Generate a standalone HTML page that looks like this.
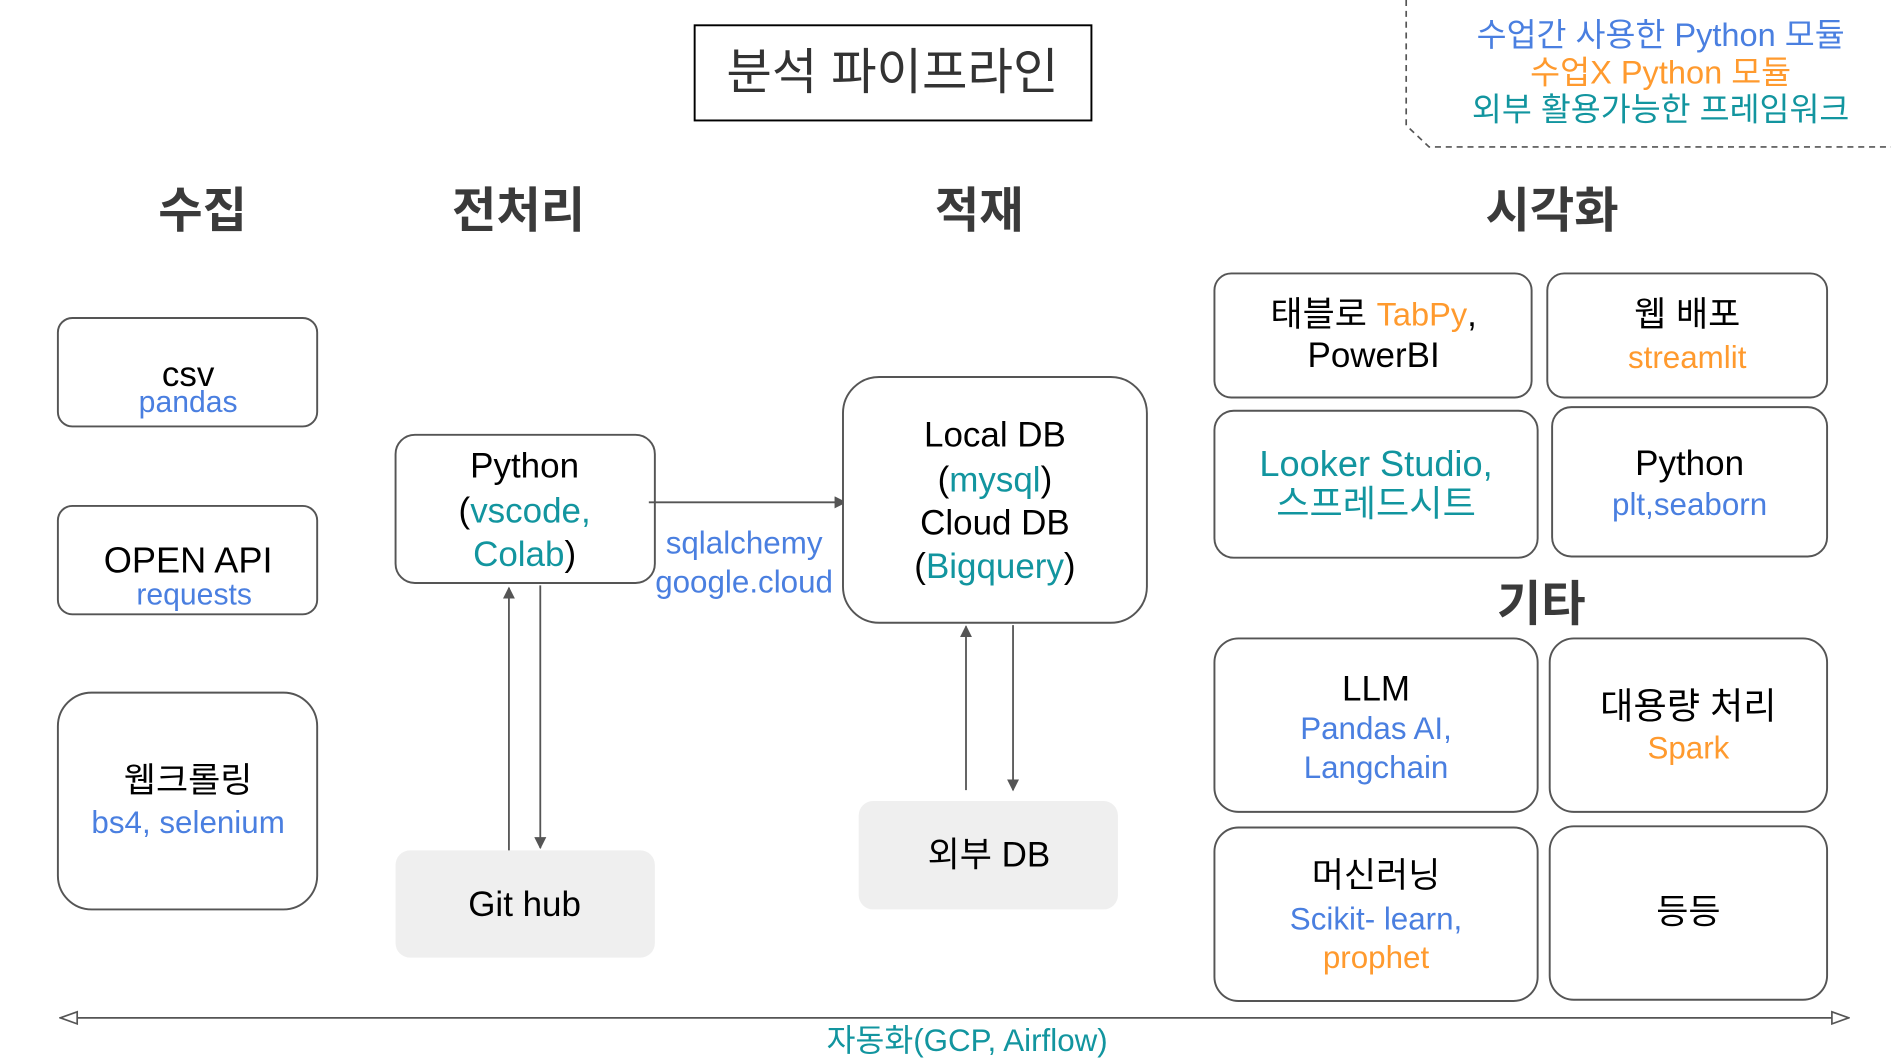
<!DOCTYPE html>
<html><head><meta charset="utf-8"><style>
html,body{margin:0;padding:0;background:#fff;}
svg{display:block}
text{font-family:"Liberation Sans","Noto Sans CJK KR",sans-serif;text-anchor:middle;dominant-baseline:central}
.k{fill:#000;font-size:29px}
.b{fill:#4a7fe0;font-size:25px}
.o{fill:#ff9a2e;font-size:25px}
.t{fill:#12959f;font-size:29px}
.h{fill:#3a3a3a;font-size:40px;font-weight:bold}
.bx{fill:#fff;stroke:#555;stroke-width:1.6}
.g{fill:#efefef}
.ln{stroke:#555;stroke-width:1.5;fill:none}
</style></head><body>
<svg width="1891" height="1060" viewBox="0 0 1568 880" preserveAspectRatio="none" xmlns="http://www.w3.org/2000/svg">
<defs>
<marker id="a" markerWidth="10" markerHeight="10" refX="9" refY="5" orient="auto" markerUnits="userSpaceOnUse"><path d="M0,0 L10,5 L0,10 z" fill="#555"/></marker>
<marker id="oa" markerWidth="16" markerHeight="12" refX="15" refY="6" orient="auto-start-reverse" markerUnits="userSpaceOnUse"><path d="M1,1 L15,6 L1,11 z" fill="#fff" stroke="#555" stroke-width="1.4"/></marker>
</defs>
<rect x="576" y="21" width="329" height="79" fill="#fff" stroke="#000" stroke-width="1.6"/>
<text x="740" y="60" style="font-size:41px;fill:#333">분석 파이프라인</text>
<path d="M1166,0 L1166,104 L1185,122 L1568,122" fill="none" stroke="#555" stroke-width="1.4" stroke-dasharray="5,4"/>
<text x="1377" y="29" class="b" style="font-size:27px">수업간 사용한 Python 모듈</text>
<text x="1377" y="60" class="o" style="font-size:27px">수업X Python 모듈</text>
<text x="1377" y="91" class="t" style="font-size:27px">외부 활용가능한 프레임워크</text>
<text x="168" y="175" class="h">수집</text>
<text x="430" y="175" class="h">전처리</text>
<text x="812" y="175" class="h">적재</text>
<text x="1287" y="175" class="h">시각화</text>
<text x="1278" y="502" class="h">기타</text>
<rect class="bx" x="48" y="264" width="215" height="90" rx="12"/>
<text x="156" y="311" class="k">csv</text><text x="156" y="334" class="b">pandas</text>
<rect class="bx" x="48" y="420" width="215" height="90" rx="12"/>
<text x="156" y="465" class="k" style="font-size:30px">OPEN API</text><text x="161" y="494" class="b">requests</text>
<rect class="bx" x="48" y="575" width="215" height="180" rx="28"/>
<text x="156" y="648" class="k">웹크롤링</text><text x="156" y="683" class="b" style="font-size:26px">bs4, selenium</text>
<rect class="bx" x="328" y="361" width="215" height="123" rx="16"/>
<text x="435" y="387" class="k">Python</text>
<text x="435" y="424" class="k">(<tspan class="t">vscode,</tspan></text>
<text x="435" y="460" class="k"><tspan class="t">Colab</tspan>)</text>
<rect class="g" x="328" y="706" width="215" height="89" rx="12"/>
<text x="435" y="751" class="k">Git hub</text>
<line class="ln" x1="422" y1="706" x2="422" y2="488" marker-end="url(#a)"/>
<line class="ln" x1="448" y1="486" x2="448" y2="704" marker-end="url(#a)"/>
<line class="ln" x1="538" y1="417" x2="701" y2="417" marker-end="url(#a)"/>
<text x="617" y="451" class="b" style="font-size:26px">sqlalchemy</text>
<text x="617" y="483" class="b" style="font-size:26px">google.cloud</text>
<rect class="bx" x="699" y="313" width="252" height="204" rx="30"/>
<text x="825" y="361" class="k">Local DB</text>
<text x="825" y="398" class="k">(<tspan class="t">mysql</tspan>)</text>
<text x="825" y="434" class="k">Cloud DB</text>
<text x="825" y="470" class="k">(<tspan class="t">Bigquery</tspan>)</text>
<rect class="g" x="712" y="665" width="215" height="90" rx="12"/>
<text x="820" y="710" class="k">외부 DB</text>
<line class="ln" x1="801" y1="656" x2="801" y2="520" marker-end="url(#a)"/>
<line class="ln" x1="840" y1="519" x2="840" y2="656" marker-end="url(#a)"/>
<rect class="bx" x="1007" y="227" width="263" height="103" rx="14"/>
<text x="1139" y="261" class="k">태블로 <tspan class="o" style="font-size:27px">TabPy</tspan>,</text>
<text x="1139" y="295" class="k">PowerBI</text>
<rect class="bx" x="1283" y="227" width="232" height="103" rx="14"/>
<text x="1399" y="261" class="k">웹 배포</text>
<text x="1399" y="297" class="o" style="font-size:26px">streamlit</text>
<rect class="bx" x="1007" y="341" width="268" height="122" rx="16"/>
<text x="1141" y="385" class="t" style="font-size:30px">Looker Studio,</text>
<text x="1141" y="418" class="t" style="font-size:30px">스프레드시트</text>
<rect class="bx" x="1287" y="338" width="228" height="124" rx="16"/>
<text x="1401" y="385" class="k">Python</text>
<text x="1401" y="419" class="b" style="font-size:26px">plt,seaborn</text>
<rect class="bx" x="1007" y="530" width="268" height="144" rx="20"/>
<text x="1141" y="572" class="k">LLM</text>
<text x="1141" y="605" class="b" style="font-size:26px">Pandas AI,</text>
<text x="1141" y="637" class="b" style="font-size:26px">Langchain</text>
<rect class="bx" x="1285" y="530" width="230" height="144" rx="20"/>
<text x="1400" y="586" class="k" style="font-size:30px">대용량 처리</text>
<text x="1400" y="621" class="o" style="font-size:26px">Spark</text>
<rect class="bx" x="1007" y="687" width="268" height="144" rx="20"/>
<text x="1141" y="727" class="k">머신러닝</text>
<text x="1141" y="763" class="b" style="font-size:26px">Scikit- learn,</text>
<text x="1141" y="795" class="o" style="font-size:26px">prophet</text>
<rect class="bx" x="1285" y="686" width="230" height="144" rx="20"/>
<text x="1400" y="757" class="k">등등</text>
<line class="ln" x1="50" y1="845" x2="1533" y2="845" marker-start="url(#oa)" marker-end="url(#oa)"/>
<text x="802" y="864" class="t" style="font-size:26px">자동화(GCP, Airflow)</text>
</svg>
</body></html>
